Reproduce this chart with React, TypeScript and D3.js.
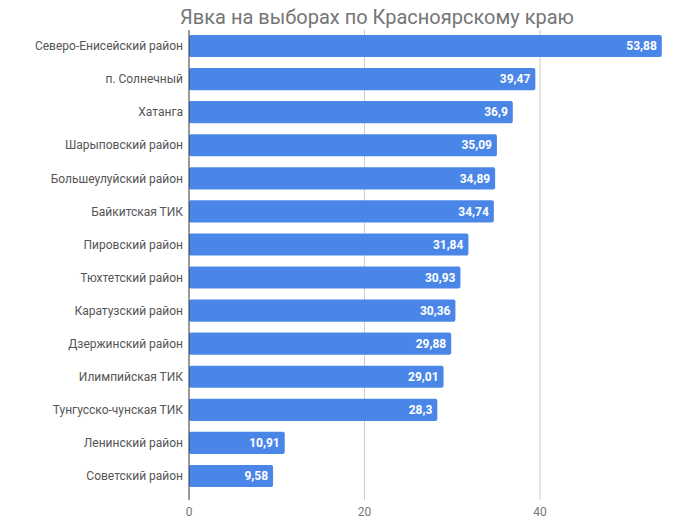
import * as d3 from 'd3';
import { useEffect, useRef } from 'react';

const districts = [
  'Северо-Енисейский район',
  'п. Солнечный',
  'Хатанга',
  'Шарыповский район',
  'Большеулуйский район',
  'Байкитская ТИК',
  'Пировский район',
  'Тюхтетский район',
  'Каратузский район',
  'Дзержинский район',
  'Илимпийская ТИК',
  'Тунгусско-чунская ТИК',
  'Ленинский район',
  'Советский район'
];

const turnout = [53.88, 39.47, 36.9, 35.09, 34.89, 34.74, 31.84, 30.93, 30.36, 29.88, 29.01, 28.3, 10.91, 9.58];

const xTicks = [0, 20, 40];

const title = 'Явка на выборах по Красноярскому краю';

const App = () => {
  const ref = useRef<SVGSVGElement | null>(null);

  useEffect(() => {
    if (!ref.current) return;
    const svg = d3.select(ref.current);
    svg.selectAll('*').remove();

    const width = 680;
    const height = 531;
    const font = 'Roboto, sans-serif';

    const x = d3.scaleLinear().domain([0, 40]).range([189, 540]);
    const y = d3.scaleBand<string>().domain(districts).range([29.5, 492.5]).paddingInner(0.33).paddingOuter(0.165);

    svg.attr('width', width).attr('height', height);

    svg.append('rect').attr('width', width).attr('height', height).attr('fill', '#fff');

    svg.append('text')
      .attr('x', 377)
      .attr('y', 24)
      .attr('text-anchor', 'middle')
      .attr('font-family', font)
      .attr('font-size', 20)
      .attr('fill', '#757575')
      .text(title);

    // gridlines
    svg.append('g')
      .selectAll('line')
      .data(xTicks.filter(t => t !== 0))
      .enter()
      .append('line')
      .attr('x1', d => x(d))
      .attr('x2', d => x(d))
      .attr('y1', 30)
      .attr('y2', 500)
      .attr('stroke', '#cccccc')
      .attr('stroke-width', 1);

    // bars
    svg.append('g')
      .selectAll('rect')
      .data(turnout)
      .enter()
      .append('rect')
      .attr('x', x(0))
      .attr('y', (_, i) => y(districts[i])!)
      .attr('width', d => x(d) - x(0))
      .attr('height', y.bandwidth())
      .attr('rx', 2)
      .attr('fill', '#4a86e8');

    // zero axis
    svg.append('line')
      .attr('x1', x(0))
      .attr('x2', x(0))
      .attr('y1', 30)
      .attr('y2', 500)
      .attr('stroke', '#333')
      .attr('stroke-width', 1);

    // value labels
    svg.append('g')
      .selectAll('text')
      .data(turnout)
      .enter()
      .append('text')
      .attr('x', d => x(d) - 5)
      .attr('y', (_, i) => y(districts[i])! + y.bandwidth() / 2)
      .attr('dy', '0.35em')
      .attr('text-anchor', 'end')
      .attr('font-family', font)
      .attr('font-size', 12)
      .attr('font-weight', 'bold')
      .attr('fill', '#fff')
      .text(d => String(d).replace('.', ','));

    // category labels
    svg.append('g')
      .selectAll('text')
      .data(districts)
      .enter()
      .append('text')
      .attr('x', 183)
      .attr('y', d => y(d)! + y.bandwidth() / 2)
      .attr('dy', '0.35em')
      .attr('text-anchor', 'end')
      .attr('font-family', font)
      .attr('font-size', 12)
      .attr('fill', '#555')
      .text(d => d);

    // x tick labels
    svg.append('g')
      .selectAll('text')
      .data(xTicks)
      .enter()
      .append('text')
      .attr('x', d => x(d))
      .attr('y', 512)
      .attr('dy', '0.35em')
      .attr('text-anchor', 'middle')
      .attr('font-family', font)
      .attr('font-size', 12)
      .attr('fill', '#757575')
      .text(d => String(d));
  }, []);

  return <svg ref={ref} style={{ position: 'absolute', left: 0, top: 0 }} />;
};

export default App;
